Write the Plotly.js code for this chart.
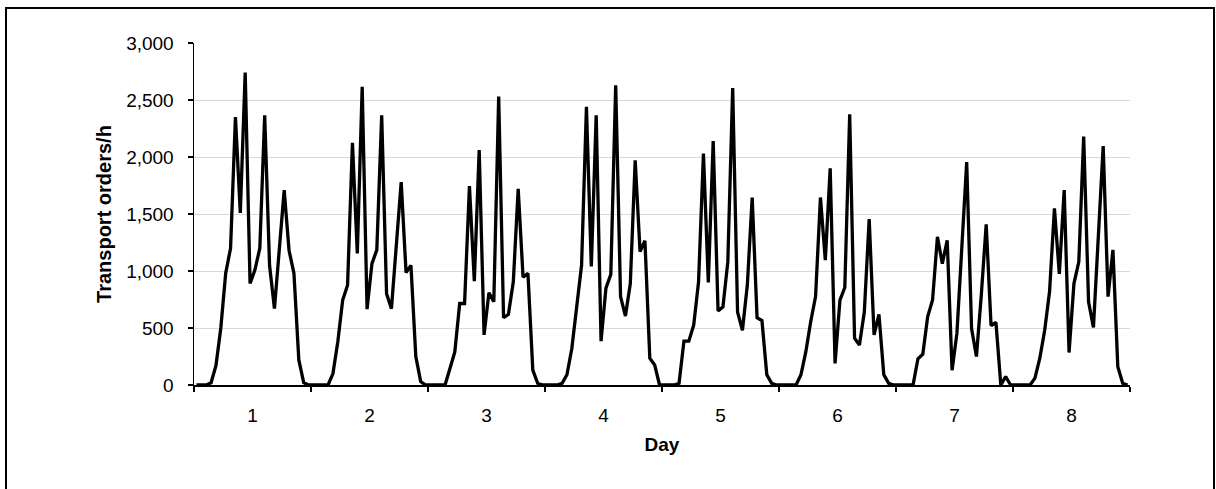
<!DOCTYPE html>
<html>
<head>
<meta charset="utf-8">
<script src="https://cdn.plot.ly/plotly-3.0.1.min.js"></script>
<style>
  html, body { margin: 0; padding: 0; background: #fff; }
  #chart { width: 1216px; height: 489px; }
</style>
</head>
<body>
<div id="chart"></div>
<script>
// Hourly transport orders per day (24 values each)
const day1 = [0,0,0,20,170,500,980,1200,2350,1510,2740,890,1010,1200,2365,1050,670,1190,1710,1180,980,220,20,0];
const day2 = [0,0,0,0,100,380,745,875,2125,1155,2615,665,1065,1185,2365,800,670,1230,1780,985,1050,250,30,0];
const day3 = [0,0,0,0,145,290,715,715,1745,910,2060,440,810,730,2530,590,620,905,1720,945,980,130,15,0];
const day4 = [0,0,0,15,90,320,670,1050,2440,1040,2365,385,850,970,2630,775,605,890,1970,1170,1265,235,175,0];
const day5 = [0,0,0,15,385,385,525,905,2030,900,2140,650,685,1080,2605,640,480,875,1645,590,565,90,15,0];
const day6 = [0,0,0,0,90,290,555,775,1645,1095,1900,190,745,855,2375,410,350,640,1455,440,620,90,15,0];
const day7 = [0,0,0,0,230,270,600,745,1300,1065,1270,130,455,1155,1955,495,250,790,1410,520,550,0,75,0];
const day8 = [0,0,0,0,60,235,480,820,1550,975,1710,285,890,1080,2180,730,505,1300,2095,775,1185,160,15,0];
const dayLabels = ['1','2','3','4','5','6','7','8'];

const days = [day1, day2, day3, day4, day5, day6, day7, day8];
const hoursPerDay = 24;
const yValues = [].concat(...days);
const xValues = yValues.map((_, i) => i + 0.5);
const labelVals = dayLabels.map((_, d) => d * hoursPerDay + hoursPerDay / 2);
const boundaryVals = [];
for (let d = 0; d <= dayLabels.length; d++) boundaryVals.push(d * hoursPerDay);

const FONT = 'Liberation Sans, Arial, Helvetica, sans-serif';

const trace = {
  x: xValues,
  y: yValues,
  type: 'scatter',
  mode: 'lines',
  line: { color: '#000000', width: 3.3 },
  hoverinfo: 'skip'
};

const layout = {
  width: 1216,
  height: 489,
  margin: { l: 194, r: 86, t: 43, b: 104, pad: 0 },
  paper_bgcolor: '#ffffff',
  plot_bgcolor: '#ffffff',
  showlegend: false,
  font: { family: FONT, color: '#000000', size: 19 },
  xaxis: {
    range: [0, dayLabels.length * hoursPerDay],
    tickmode: 'array',
    tickvals: labelVals,
    ticktext: dayLabels,
    ticks: '',
    showgrid: false,
    zeroline: false,
    showline: true,
    linecolor: '#000000',
    linewidth: 1.5,
    tickfont: { family: FONT, size: 19, color: '#000000' },
    ticklabelstandoff: 13,
    minor: {
      tickmode: 'array',
      tickvals: boundaryVals,
      ticks: 'outside',
      ticklen: 5,
      tickwidth: 1.5,
      tickcolor: '#000000',
      showgrid: false
    },
    title: { text: '<b>Day</b>', font: { family: FONT, size: 19, color: '#000000' }, standoff: 12 },
    fixedrange: true
  },
  yaxis: {
    range: [0, 3000],
    tickmode: 'linear',
    tick0: 0,
    dtick: 500,
    tickformat: ',d',
    ticks: 'outside',
    ticklen: 5,
    tickwidth: 1.5,
    tickcolor: '#000000',
    showgrid: true,
    gridcolor: '#d9d9d9',
    gridwidth: 1,
    zeroline: false,
    showline: true,
    linecolor: '#000000',
    linewidth: 1.5,
    tickfont: { family: FONT, size: 19, color: '#000000' },
    ticklabelstandoff: 10,
    title: { text: '<b>Transport orders/h</b>', font: { family: FONT, size: 20, color: '#000000' }, standoff: 9 },
    fixedrange: true
  },
  shapes: [
    {
      type: 'rect', xref: 'paper', yref: 'paper', layer: 'above',
      x0: (6 - 194) / 936, x1: (1214 - 194) / 936,
      y0: (385 - 500) / 342, y1: (385 - 8) / 342,
      line: { color: '#000000', width: 2 },
      fillcolor: 'rgba(0,0,0,0)'
    }
  ]
};

Plotly.newPlot('chart', [trace], layout, { displayModeBar: false, staticPlot: true });
</script>
</body>
</html>
